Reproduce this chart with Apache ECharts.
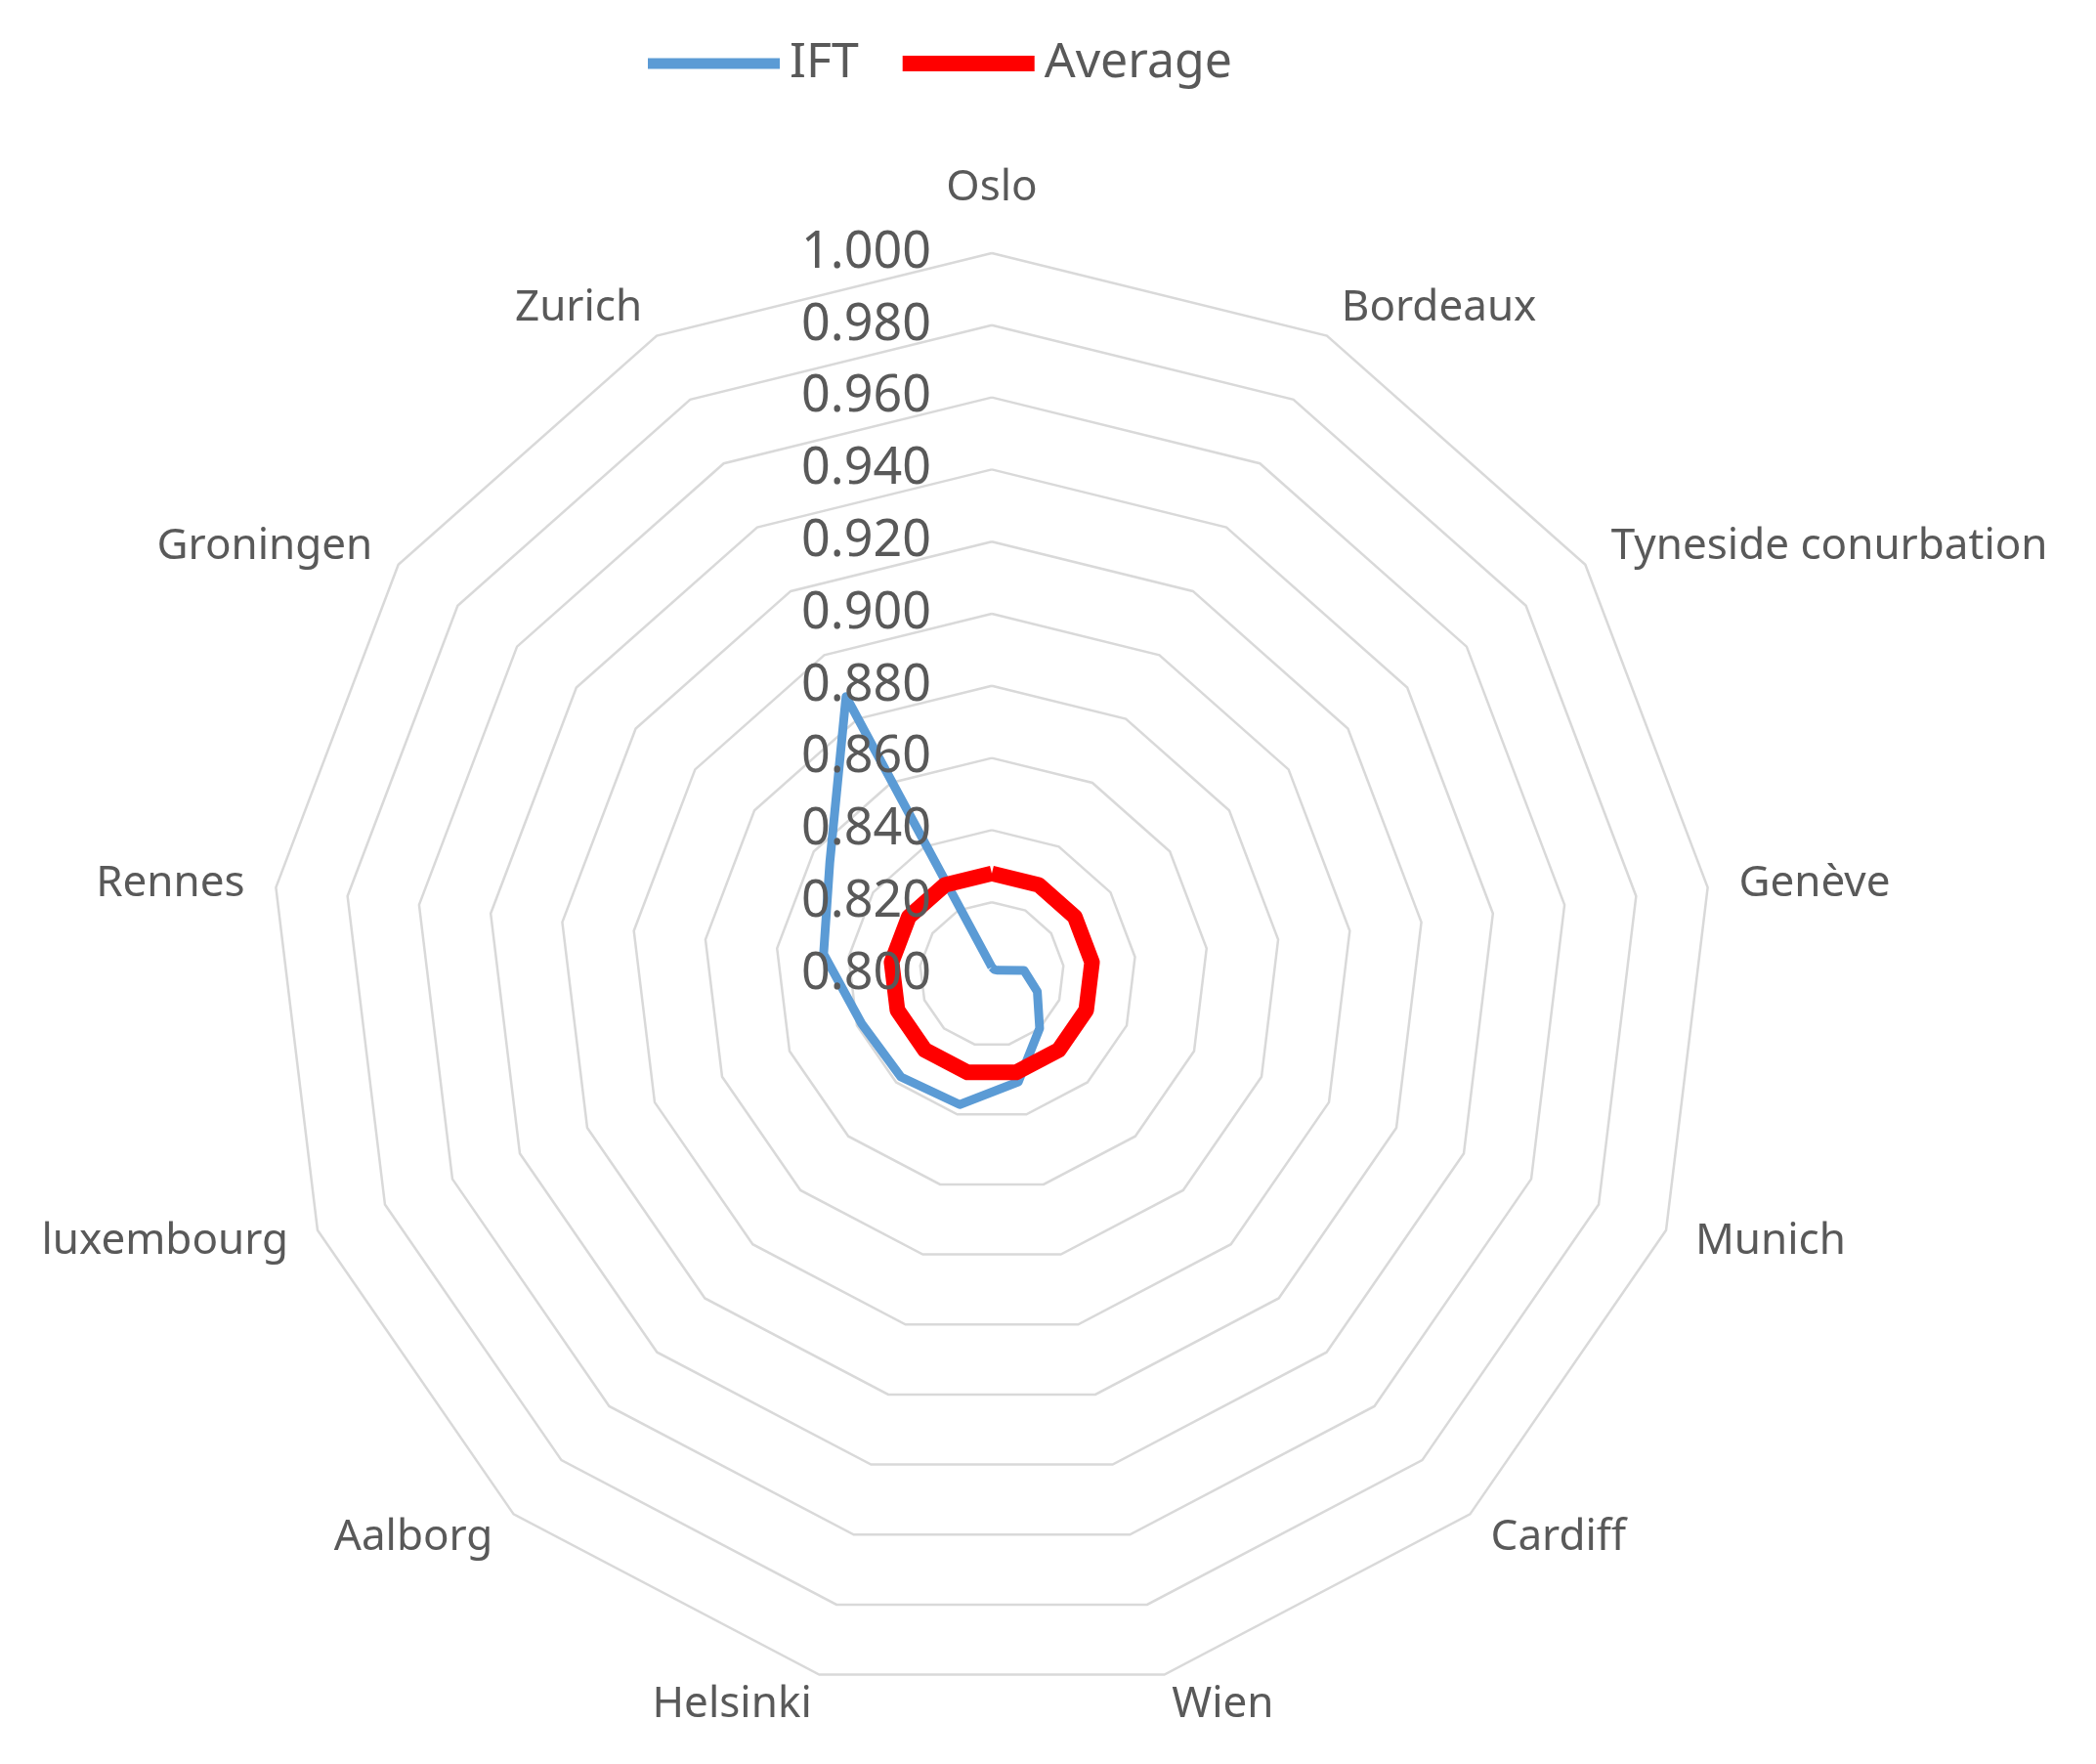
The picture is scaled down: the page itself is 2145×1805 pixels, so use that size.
<!DOCTYPE html>
<html>
<head>
<meta charset="utf-8">
<title>IFT radar</title>
<script src="https://cdn.jsdelivr.net/npm/echarts@6/dist/echarts.min.js"></script>
<style>
  html, body { margin: 0; padding: 0; background: #fff; }
  #chart { width: 2145px; height: 1805px; }
</style>
</head>
<body>
<div id="chart"></div>
<script>
// categories go clockwise from the top in the picture
const cities = ["Oslo", "Bordeaux", "Tyneside conurbation", "Genève", "Munich", "Cardiff",
  "Wien", "Helsinki", "Aalborg", "luxembourg", "Rennes", "Groningen", "Zurich"];
const iftValues = [0.802, 0.8015, 0.802, 0.809, 0.8135, 0.820, 0.8307,
  0.8372, 0.838, 0.8386, 0.847, 0.8546, 0.887];
const averageValues = [0.828, 0.828, 0.828, 0.828, 0.828, 0.828, 0.828,
  0.828, 0.828, 0.828, 0.828, 0.828, 0.828];
const tickLabels = ["0.800", "0.820", "0.840", "0.860", "0.880", "0.900",
  "0.920", "0.940", "0.960", "0.980", "1.000"];

const tickMin = +tickLabels[0];
const tickMax = +tickLabels[tickLabels.length - 1];
const textColor = "#595959";
const font = "Noto Sans";

// echarts lays radar indicators out counter-clockwise, so reverse all but the first
const order = cities.map((c, i) => (cities.length - i) % cities.length);

function makeIndicators(withLabels) {
  return order.map((i, k) => {
    const ind = { name: cities[i], min: tickMin, max: tickMax };
    if (k === 0) {
      ind.nameGap = 45;
      if (withLabels) ind.axisLabel = { show: true };
    }
    return ind;
  });
}

const radarBase = {
  center: [1015, 997],
  radius: 738,
  startAngle: 90,
  shape: "polygon",
  splitNumber: tickLabels.length - 1,
  axisLine: { show: false },
  axisTick: { show: false },
  splitArea: { show: false },
};

const chart = echarts.init(document.getElementById("chart"));
chart.setOption({
  backgroundColor: "#fff",
  animation: false,
  legend: {
    left: 658,
    top: 35,
    itemWidth: 135,
    itemHeight: 16,
    itemGap: 45,
    textStyle: { color: textColor, fontSize: 50, fontFamily: font, padding: [0, 0, 0, 5] },
    data: [
      { name: "IFT", icon: "path://M0 0H135V11H0Z" },
      { name: "Average", icon: "path://M0 0H135V16H0Z" },
    ],
  },
  radar: [
    Object.assign({}, radarBase, {
      indicator: makeIndicators(false),
      nameGap: 32,
      axisName: { color: textColor, fontSize: 44, fontFamily: font },
      axisLabel: { show: false },
      splitLine: { lineStyle: { color: "#d9d9d9", width: 2.5 } },
      z: 0,
    }),
    // second copy only carries the value labels, drawn above the lines
    Object.assign({}, radarBase, {
      indicator: makeIndicators(true),
      axisName: { show: false },
      splitLine: { show: false },
      axisLabel: {
        show: false,
        color: textColor,
        fontSize: 52,
        fontFamily: font,
        margin: 62,
        formatter: (v) => Number(v).toFixed(3),
      },
      z: 5,
    }),
  ],
  series: [
    {
      type: "radar",
      radarIndex: 0,
      symbol: "none",
      data: [
        {
          name: "IFT",
          value: order.map((i) => iftValues[i]),
          lineStyle: { color: "#5b9bd5", width: 9 },
          itemStyle: { color: "#5b9bd5" },
        },
        {
          name: "Average",
          value: order.map((i) => averageValues[i]),
          lineStyle: { color: "#ff0000", width: 16 },
          itemStyle: { color: "#ff0000" },
        },
      ],
    },
  ],
});
</script>
</body>
</html>
